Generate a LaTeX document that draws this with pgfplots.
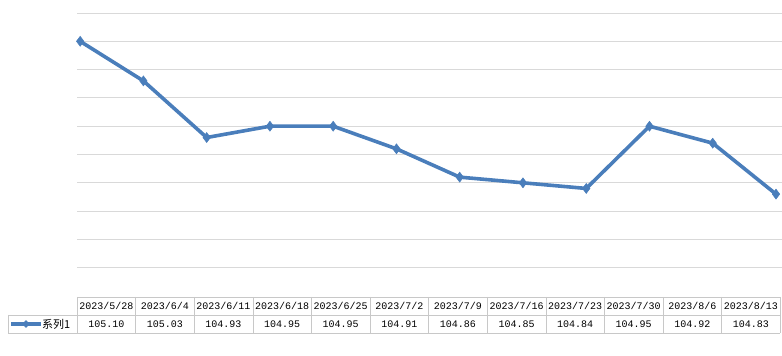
\documentclass[border=0pt]{standalone}
\usepackage{fontspec}
\setmainfont{Liberation Sans}
\setmonofont{Liberation Mono}
\newfontfamily\cjk{Noto Sans CJK SC}
\usepackage{pgfplots}
\pgfplotsset{compat=1.18}
\usetikzlibrary{shapes.geometric}
\definecolor{serblue}{RGB}{74,126,187}
\definecolor{gridgray}{RGB}{217,217,217}
\definecolor{tblgray}{RGB}{200,200,200}
\begin{document}
\begin{tikzpicture}[x=1pt,y=1pt]
\useasboundingbox (0,0) rectangle (782,356);
\begin{axis}[
  at={(77pt,60pt)}, anchor=south west,
  scale only axis, width=705pt, height=283pt,
  xmin=-0.05, xmax=11.095,
  ymin=104.65, ymax=105.15,
  ytick={104.70,104.75,104.80,104.85,104.90,104.95,105.00,105.05,105.10,105.15},
  xtick=\empty, yticklabels={},
  major tick length=0pt,
  axis line style={draw=none},
  ymajorgrids, grid style={gridgray, line width=0.8pt},
  clip=false,
]
\addplot[serblue, line width=3.6pt, mark=diamond*, mark size=5pt, mark options={solid, fill=serblue, line width=0.5pt}]
coordinates {(0,105.10) (1,105.03) (2,104.93) (3,104.95) (4,104.95) (5,104.91) (6,104.86) (7,104.85) (8,104.84) (9,104.95) (10,104.92) (11,104.83)};
\end{axis}
% data table
\def\colw{58.6}
\draw[tblgray, line width=0.6pt] (77,59) -- (780.2,59);
\draw[tblgray, line width=0.6pt] (8,41) -- (780.2,41);
\draw[tblgray, line width=0.6pt] (8,23) -- (780.2,23);
\draw[tblgray, line width=0.6pt] (8,41) -- (8,23);
\foreach \i in {0,...,12} {
  \draw[tblgray, line width=0.6pt] ({77+\colw*\i},59) -- ({77+\colw*\i},23);
}
\foreach \d [count=\i from 0] in {2023/5/28,2023/6/4,2023/6/11,2023/6/18,2023/6/25,2023/7/2,2023/7/9,2023/7/16,2023/7/23,2023/7/30,2023/8/6,2023/8/13} {
  \node[font=\ttfamily\fontsize{10}{12}\selectfont, inner sep=0pt] at ({77+\colw*(\i+0.5)},50) {\d};
}
\foreach \v [count=\i from 0] in {105.10,105.03,104.93,104.95,104.95,104.91,104.86,104.85,104.84,104.95,104.92,104.83} {
  \node[font=\ttfamily\fontsize{10}{12}\selectfont, inner sep=0pt] at ({77+\colw*(\i+0.5)},32) {\v};
}
\draw[serblue, line width=3.6pt] (11,32) -- (41,32);
\node[diamond, fill=serblue, inner sep=0pt, minimum size=8pt] at (26,32) {};
\node[font=\cjk\fontsize{11}{12}\selectfont, inner sep=0pt, anchor=west] at (42,32) {系列1};
\end{tikzpicture}
\end{document}
